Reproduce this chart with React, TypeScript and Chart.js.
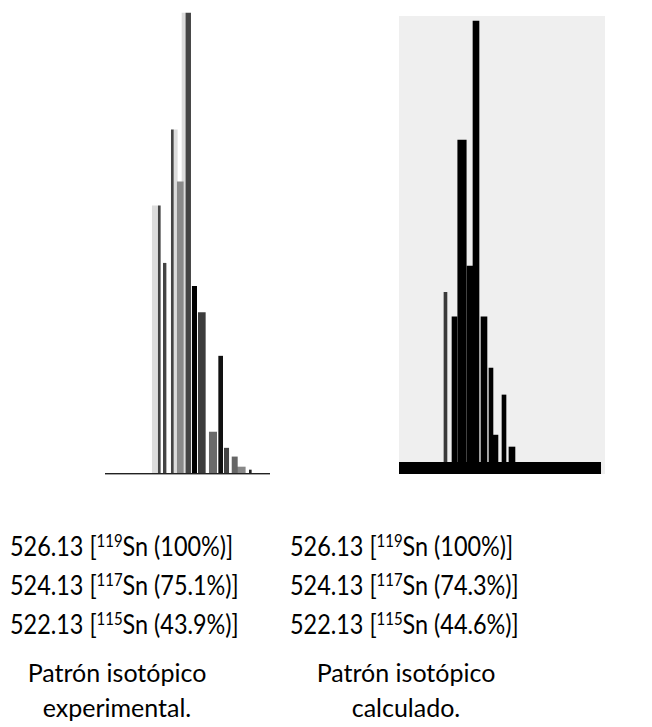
import React, { useEffect, useRef } from "react";
import { Chart, registerables } from "chart.js";
Chart.register(...registerables);

// ---- Experimental isotopic pattern (m/z, relative intensity %) ----
const expMz = [521.12, 524.2, 525.54, 521.74, 522.57, 523.74, 526.2, 528.28, 532.08, 524.97, 530.0, 533.34, 534.35, 527.15, 531.18, 535.74];
const expIntensity = [58.1, 74.6, 100, 58.1, 45.6, 74.6, 100, 34.9, 5.4, 63.3, 8.9, 3.5, 1.3, 40.6, 25.4, 0.65];
// styles per experimental bar (kept apart from the values)
const expColor = ["#dcdcdc", "#dcdcdc", "#dcdcdc", "#444444", "#444444", "#444444", "#444444", "#3c3c3c", "#444444", "#8a8a8a", "#6a6a6a", "#666666", "#888888", "#000000", "#111111", "#222222"];
const expWidth = [6, 4, 4, 2, 2.7, 2, 4.7, 7, 4.4, 6, 7.4, 5.3, 8, 4.4, 4, 2];
const expLayer = [2, 2, 2, 1, 1, 1, 1, 1, 1, 1, 1, 1, 1, 1, 1, 1];

// ---- Calculated isotopic pattern ----
const calcMz = [521.64, 522.93, 524.0, 525.14, 526.0, 527.14, 528.14, 528.71, 530.0, 531.14];
const calcIntensity = [38.5, 32.9, 73.0, 44.4, 100, 32.9, 21.3, 6.1, 15.2, 3.4];
const calcColor = ["#3a3a3a", "#000000", "#000000", "#000000", "#000000", "#000000", "#000000", "#000000", "#000000", "#000000"];
const calcWidth = [3, 5, 8.5, 6, 6, 6, 4, 6, 4, 6];

// ---- Labels ----
const peakMz = ["526.13", "524.13", "522.13"];
const peakIsotope = ["119", "117", "115"];
const expPercent = ["100%", "75.1%", "43.9%"];
const calcPercent = ["100%", "74.3%", "44.6%"];
const captionExp = ["Patrón isotópico", "experimental."];
const captionCalc = ["Patrón isotópico", "calculado."];

const FONT = "Lato, 'Open Sans', sans-serif";

function makeDatasets(mz: number[], val: number[], color: string[], width: number[], layer?: number[]) {
  return mz.map((x, i) => ({
    type: "bar" as const,
    label: "peak " + x,
    stack: "peaks",
    data: [{ x, y: val[i] }],
    backgroundColor: color[i],
    borderWidth: 0,
    barThickness: width[i],
    order: layer ? layer[i] : 1,
  }));
}

function baseOptions(xmin: number, xmax: number, ymin: number, ymax: number): any {
  return {
    animation: false,
    responsive: false,
    maintainAspectRatio: false,
    events: [],
    layout: { padding: 0 },
    plugins: { legend: { display: false }, tooltip: { enabled: false }, title: { display: false } },
    datasets: { bar: { grouped: true } },
    scales: {
      x: { type: "linear", display: false, min: xmin, max: xmax, offset: false },
      y: { type: "linear", display: false, min: ymin, max: ymax, stacked: false },
    },
  };
}

function ExpChart() {
  const ref = useRef<HTMLCanvasElement>(null);
  useEffect(() => {
    const baseline = {
      id: "expBaseline",
      afterDatasetsDraw(chart: any) {
        const { ctx, chartArea, scales } = chart;
        const y0 = scales.y.getPixelForValue(0);
        ctx.save();
        ctx.fillStyle = "#222222";
        ctx.fillRect(chartArea.left, y0, chartArea.right - chartArea.left, 1.4);
        ctx.restore();
      },
    };
    const chart = new Chart(ref.current as HTMLCanvasElement, {
      type: "bar",
      data: { datasets: makeDatasets(expMz, expIntensity, expColor, expWidth, expLayer) as any },
      options: baseOptions(513.385, 538.77, -0.652, 102.83),
      plugins: [baseline],
    });
    return () => chart.destroy();
  }, []);
  return <canvas ref={ref} width={165} height={476} style={{ position: "absolute", left: 105, top: 0, width: 165, height: 476 }} />;
}

function CalcChart() {
  const ref = useRef<HTMLCanvasElement>(null);
  useEffect(() => {
    const deco = {
      id: "calcDeco",
      beforeDatasetsDraw(chart: any) {
        const { ctx, chartArea } = chart;
        ctx.save();
        ctx.fillStyle = "#efefef";
        ctx.fillRect(chartArea.left, chartArea.top, chartArea.right - chartArea.left, chartArea.bottom - chartArea.top);
        ctx.restore();
      },
      afterDatasetsDraw(chart: any) {
        const { ctx, chartArea, scales } = chart;
        const y0 = scales.y.getPixelForValue(0);
        const xEnd = scales.x.getPixelForValue(543.86);
        ctx.save();
        ctx.fillStyle = "#000000";
        ctx.fillRect(chartArea.left, y0, xEnd - chartArea.left, chartArea.bottom - y0);
        ctx.restore();
      },
    };
    const chart = new Chart(ref.current as HTMLCanvasElement, {
      type: "bar",
      data: { datasets: makeDatasets(calcMz, calcIntensity, calcColor, calcWidth) as any },
      options: baseOptions(515.0, 544.43, -2.72, 101.13),
      plugins: [deco],
    });
    return () => chart.destroy();
  }, []);
  return <canvas ref={ref} width={206} height={458} style={{ position: "absolute", left: 399, top: 16, width: 206, height: 458 }} />;
}

function PeakLines({ left, pct }: { left: number; pct: string[] }) {
  return (
    <div style={{ position: "absolute", left, top: 529, fontFamily: FONT, fontSize: 26, lineHeight: "35px", whiteSpace: "nowrap", color: "#000", transform: "scaleX(0.9)", transformOrigin: "left top" }}>
      {peakMz.map((m, i) => (
        <div key={i}>
          {m} [
          <span style={{ fontSize: "0.64em", position: "relative", top: "-0.55em" }}>{peakIsotope[i]}</span>
          Sn ({pct[i]})]
        </div>
      ))}
    </div>
  );
}

function Caption({ center, lines }: { center: number; lines: string[] }) {
  return (
    <div style={{ position: "absolute", left: center - 120, width: 240, top: 655, textAlign: "center", fontFamily: FONT, fontSize: 25, lineHeight: "35px", color: "#000" }}>
      {lines.map((l, i) => (
        <div key={i}>{l}</div>
      ))}
    </div>
  );
}

export default function App() {
  return (
    <div style={{ position: "absolute", left: 0, top: 0, width: 652, height: 727, background: "#ffffff", overflow: "hidden" }}>
      <ExpChart />
      <CalcChart />
      <PeakLines left={10} pct={expPercent} />
      <PeakLines left={290} pct={calcPercent} />
      <Caption center={117} lines={captionExp} />
      <Caption center={406} lines={captionCalc} />
    </div>
  );
}
